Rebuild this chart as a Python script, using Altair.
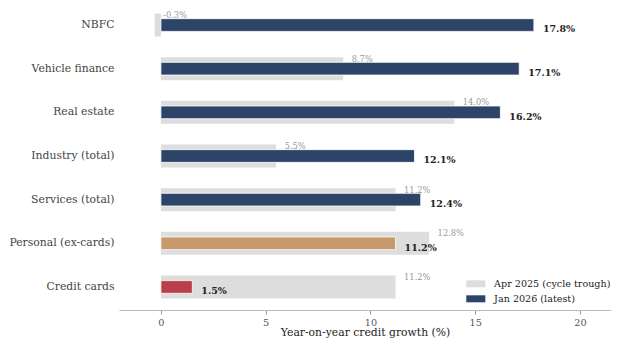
import altair as alt
import pandas as pd

categories = ["NBFC", "Vehicle finance", "Real estate", "Industry (total)",
              "Services (total)", "Personal (ex-cards)", "Credit cards"]
apr_2025 = [-0.3, 8.7, 14.0, 5.5, 11.2, 12.8, 11.2]
jan_2026 = [17.8, 17.1, 16.2, 12.1, 12.4, 11.2, 1.5]
jan_colors = ["#2c4468", "#2c4468", "#2c4468", "#2c4468", "#2c4468", "#c8996b", "#b9404a"]
apr_label = "Apr 2025 (cycle trough)"
jan_label = "Jan 2026 (latest)"

GREY = "#dddddd"
NAVY = "#2c4468"
FONT = "DejaVu Serif, serif"

df = pd.DataFrame({
    "category": categories,
    "apr": apr_2025,
    "jan": jan_2026,
    "jan_color": jan_colors,
    "period": [apr_label] * len(categories),
})
df["apr_txt"] = df["apr"].map(lambda v: f"{v:.1f}%")
df["jan_txt"] = df["jan"].map(lambda v: f"{v:.1f}%")

y_enc = alt.Y(
    "category:N",
    sort=categories,
    scale=alt.Scale(range=[-4.8, 300.8], paddingInner=0, paddingOuter=0),
    axis=alt.Axis(title=None, domain=False, ticks=False, labelPadding=5,
                  labelFontSize=10.8, labelColor="#444444", labelFont=FONT),
)
x_scale = alt.Scale(domain=[-2.0, 21.48], nice=False, zero=False)
x_axis = alt.Axis(values=[0, 5, 10, 15, 20], title="Year-on-year credit growth (%)",
                  grid=False, domainColor="#bbbbbb", tickColor="#999999", tickSize=4,
                  labelFontSize=9.7, labelColor="#555555", labelFont=FONT, labelPadding=3,
                  titleFont=FONT, titleFontSize=10.8, titleFontWeight="normal",
                  titleColor="#222222", titlePadding=0)

base = alt.Chart(df)

apr_bars = base.mark_bar(size=23).encode(
    x=alt.X("apr:Q", scale=x_scale, axis=x_axis),
    x2=alt.X2(datum=0),
    y=y_enc,
    color=alt.Color("period:N",
                    scale=alt.Scale(domain=[apr_label, jan_label], range=[GREY, NAVY]),
                    legend=alt.Legend(
                        title=None, orient="none", legendX=352, legendY=271,
                        symbolType="M-2.5,-0.92H2.5V0.92H-2.5Z", symbolSize=58,
                        symbolStrokeWidth=0, labelFont=FONT, labelFontSize=9.6,
                        labelColor="#222222", labelOffset=13.5, rowPadding=4,
                        padding=0, symbolOpacity=1, labelLimit=300)),
)

jan_bars = base.mark_bar(size=12.7, stroke="white", strokeWidth=0.8).encode(
    x=alt.X("jan:Q", scale=x_scale),
    x2=alt.X2(datum=0),
    y=alt.Y("category:N", sort=categories),
    fill=alt.Fill("jan_color:N", scale=None),
)

apr_text = base.mark_text(align="left", baseline="middle", dx=8.5, dy=-9,
                          font=FONT, fontSize=8.3, color="#999999").encode(
    x=alt.X("apr:Q", scale=x_scale),
    y=alt.Y("category:N", sort=categories),
    text="apr_txt:N",
)

jan_text = base.mark_text(align="left", baseline="middle", dx=9, dy=4.4,
                          font=FONT, fontSize=9.5, fontWeight="bold",
                          color="#222222").encode(
    x=alt.X("jan:Q", scale=x_scale),
    y=alt.Y("category:N", sort=categories),
    text="jan_txt:N",
)

chart = alt.layer(apr_bars, jan_bars, apr_text, jan_text).properties(
    width=492, height=302,
    autosize=alt.AutoSizeParams(type="none"),
    padding={"left": 111, "top": 0, "right": 0, "bottom": 29},
).configure(background="white").configure_view(stroke=None)

chart.save("out.html", embed_options={"renderer": "svg", "actions": False})
